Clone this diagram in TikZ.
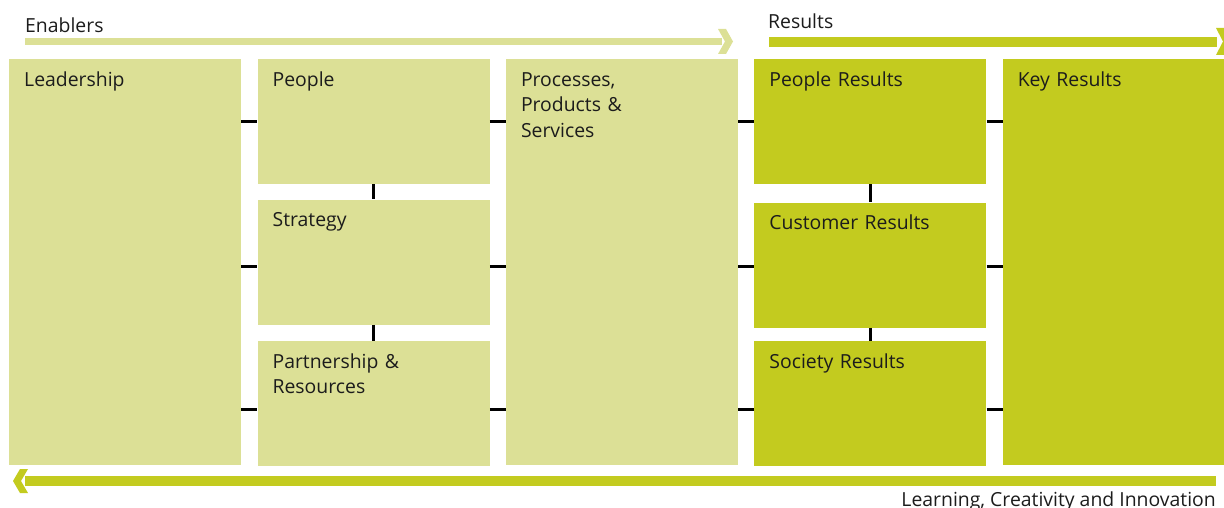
\documentclass[tikz,border=0pt]{standalone}
\usepackage{fontspec}
\setmainfont{Open Sans}
\usetikzlibrary{positioning}
\definecolor{enablerGreen}{RGB}{220, 224, 150}
\definecolor{resultGreen}{RGB}{195, 203, 31}
\definecolor{inkGray}{RGB}{28, 28, 28}
\tikzset{
    % Base Panel Style
    panel/.style={
        rectangle,
        anchor=north west,
        inner xsep=15pt,
        inner ysep=0pt,
        align=left,
        text width=202pt,
        minimum width=232pt,
        text height=27pt,
        font=\fontsize{19.4}{25.7}\selectfont,
        text=inkGray
    },
    shortPanel/.style={panel, text depth=98pt, minimum height=125pt},
    tallPanel/.style={panel, text depth=379pt, minimum height=406pt},
    % Specific Role Styles
    enabler/.style={fill=enablerGreen},
    result/.style={fill=resultGreen},
    % Connector & Label Styles
    link/.style={draw=black, line width=3pt},
    bandLabel/.style={font=\fontsize{19.4}{23}\selectfont, text=inkGray, inner sep=0pt}
}
\begin{document}
\begin{tikzpicture}[x=1pt, y=-1pt]

    \useasboundingbox (0,0) rectangle (1224,508);

    % --- ENABLERS (left three columns) ---
    \node (lead) [tallPanel, enabler] at (9,59) {Leadership};

    \node (people) [shortPanel, enabler, right=16pt of lead.north east, anchor=north west] {People};
    \node (strategy) [shortPanel, enabler, below=15pt of people.south west, anchor=north west] {Strategy};
    \node (partner) [shortPanel, enabler, below=16pt of strategy.south west, anchor=north west] {Partnership \&\\Resources};

    \node (proc) [tallPanel, enabler, right=16pt of people.north east, anchor=north west] {Processes,\\Products \&\\Services};

    % --- RESULTS (right two columns) ---
    \node (pres) [shortPanel, result, right=16pt of proc.north east, anchor=north west] {People Results};
    \node (cres) [shortPanel, result, below=18pt of pres.south west, anchor=north west] {Customer Results};
    \node (sres) [shortPanel, result, below=13pt of cres.south west, anchor=north west] {Society Results};

    \node (key) [tallPanel, result, right=16pt of pres.north east, anchor=north west] {Key Results};

    % --- Connectors ---
    \coordinate (row1) at (0,122);
    \coordinate (row2) at (0,266);
    \coordinate (row3) at (0,409);
    \foreach \r in {row1, row2, row3} {
        \foreach \a/\b in {lead/people, people/proc, proc/pres, pres/key} {
            \draw [link] (\a.east |- \r) -- (\b.west |- \r);
        }
    }
    \draw [link] (people.south) -- (strategy.north);
    \draw [link] (strategy.south) -- (partner.north);
    \draw [link] (pres.south) -- (cres.north);
    \draw [link] (cres.south) -- (sres.north);

    % --- Band Arrows ---
    \fill [enablerGreen] (25,38) rectangle (722,45);
    \fill [enablerGreen] (718,29) -- (726,29) -- (733,41.5) -- (726,54) -- (718,54) -- (725,41.5) -- cycle;
    \node (enablers) [bandLabel, anchor=base west] at (25,33) {Enablers};

    \fill [resultGreen] (769,37) rectangle (1217,47);
    \fill [resultGreen] (1216,28) -- (1224,28) -- (1231,41.5) -- (1224,55) -- (1216,55) -- (1223,41.5) -- cycle;
    \node (results) [bandLabel, anchor=base west] at (768,29) {Results};

    \fill [resultGreen] (25,476) rectangle (1216,486);
    \fill [resultGreen] (20,469) -- (28,469) -- (21,481) -- (28,493) -- (20,493) -- (13,481) -- cycle;
    \node (learning) [bandLabel, anchor=base east] at (1216,506) {Learning, Creativity and Innovation};

\end{tikzpicture}
\end{document}
